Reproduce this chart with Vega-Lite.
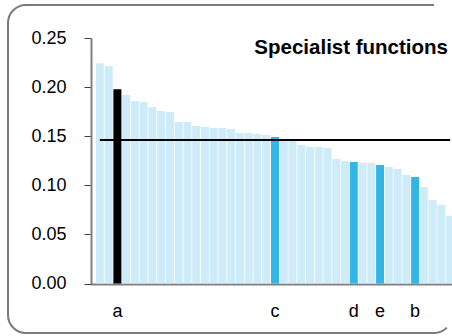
{
  "$schema": "https://vega.github.io/schema/vega-lite/v6.json",
  "width": 444,
  "height": 328,
  "autosize": "none",
  "padding": {"left": 8, "top": 5, "right": 0, "bottom": 3},
  "config": {
    "view": {"stroke": "#7a7a7a", "strokeWidth": 2, "cornerRadius": 18, "strokeDash": [408, 334, 800]},
    "font": "Liberation Sans",
    "axis": {"labelFont": "Liberation Sans", "labelColor": "#000000", "labelFontSize": 18, "domainColor": "#808080", "tickColor": "#404040", "grid": false}
  },
  "title": {"text": "Specialist functions", "anchor": "end", "frame": "group", "orient": "top", "offset": 0, "baseline": "middle", "dx": -4, "dy": 63, "fontSize": 20.5, "fontWeight": "bold", "font": "Liberation Sans", "color": "#000000"},
  "data": {"values": [
    {"index": 1, "value": 0.2243, "group": "other", "label": ""},
    {"index": 2, "value": 0.2216, "group": "other", "label": ""},
    {"index": 3, "value": 0.1978, "group": "a", "label": "a"},
    {"index": 4, "value": 0.192, "group": "other", "label": ""},
    {"index": 5, "value": 0.1859, "group": "other", "label": ""},
    {"index": 6, "value": 0.1849, "group": "other", "label": ""},
    {"index": 7, "value": 0.1798, "group": "other", "label": ""},
    {"index": 8, "value": 0.1757, "group": "other", "label": ""},
    {"index": 9, "value": 0.1747, "group": "other", "label": ""},
    {"index": 10, "value": 0.1645, "group": "other", "label": ""},
    {"index": 11, "value": 0.1645, "group": "other", "label": ""},
    {"index": 12, "value": 0.1604, "group": "other", "label": ""},
    {"index": 13, "value": 0.1594, "group": "other", "label": ""},
    {"index": 14, "value": 0.1584, "group": "other", "label": ""},
    {"index": 15, "value": 0.1584, "group": "other", "label": ""},
    {"index": 16, "value": 0.1574, "group": "other", "label": ""},
    {"index": 17, "value": 0.1533, "group": "other", "label": ""},
    {"index": 18, "value": 0.1533, "group": "other", "label": ""},
    {"index": 19, "value": 0.1523, "group": "other", "label": ""},
    {"index": 20, "value": 0.1513, "group": "other", "label": ""},
    {"index": 21, "value": 0.1492, "group": "highlight", "label": "c"},
    {"index": 22, "value": 0.146, "group": "other", "label": ""},
    {"index": 23, "value": 0.146, "group": "other", "label": ""},
    {"index": 24, "value": 0.141, "group": "other", "label": ""},
    {"index": 25, "value": 0.139, "group": "other", "label": ""},
    {"index": 26, "value": 0.139, "group": "other", "label": ""},
    {"index": 27, "value": 0.138, "group": "other", "label": ""},
    {"index": 28, "value": 0.1268, "group": "other", "label": ""},
    {"index": 29, "value": 0.1248, "group": "other", "label": ""},
    {"index": 30, "value": 0.1238, "group": "highlight", "label": "d"},
    {"index": 31, "value": 0.1228, "group": "other", "label": ""},
    {"index": 32, "value": 0.1228, "group": "other", "label": ""},
    {"index": 33, "value": 0.1207, "group": "highlight", "label": "e"},
    {"index": 34, "value": 0.1187, "group": "other", "label": ""},
    {"index": 35, "value": 0.1166, "group": "other", "label": ""},
    {"index": 36, "value": 0.1105, "group": "other", "label": ""},
    {"index": 37, "value": 0.1085, "group": "highlight", "label": "b"},
    {"index": 38, "value": 0.0983, "group": "other", "label": ""},
    {"index": 39, "value": 0.0851, "group": "other", "label": ""},
    {"index": 40, "value": 0.080, "group": "other", "label": ""},
    {"index": 41, "value": 0.069, "group": "other", "label": ""}
  ]},
  "layer": [
    {
      "mark": {"type": "bar", "size": 8, "orient": "vertical"},
      "encoding": {
        "x": {"field": "index", "type": "quantitative",
              "scale": {"domain": [0.5, 41.5], "range": [82.5, 451.5], "zero": false, "nice": false},
              "axis": {"orient": "bottom", "offset": -49, "ticks": false, "labels": false, "title": null, "domainWidth": 2}},
        "y": {"field": "value", "type": "quantitative",
              "scale": {"domain": [0, 0.25], "range": [278.5, 33], "nice": false},
              "axis": {"orient": "left", "offset": -83, "values": [0, 0.05, 0.1, 0.15, 0.2, 0.25], "format": ".2f", "tickSize": 7, "labelPadding": 18, "title": null, "domainWidth": 2}},
        "color": {"field": "group", "type": "nominal",
                  "scale": {"domain": ["other", "a", "highlight"], "range": ["#cdebf8", "#000000", "#33b6e6"]},
                  "legend": null}
      }
    },
    {
      "mark": {"type": "rule", "color": "#000000", "strokeWidth": 2},
      "encoding": {
        "y": {"aggregate": "mean", "field": "value", "type": "quantitative"},
        "x": {"aggregate": "min", "field": "index", "type": "quantitative"},
        "x2": {"aggregate": "max", "field": "index"}
      }
    },
    {
      "transform": [{"filter": "datum.label != ''"}],
      "mark": {"type": "text", "fontSize": 18, "font": "Liberation Sans", "color": "#000000", "baseline": "alphabetic", "dy": 33},
      "encoding": {
        "x": {"field": "index", "type": "quantitative"},
        "y": {"datum": 0},
        "text": {"field": "label"}
      }
    }
  ]
}
